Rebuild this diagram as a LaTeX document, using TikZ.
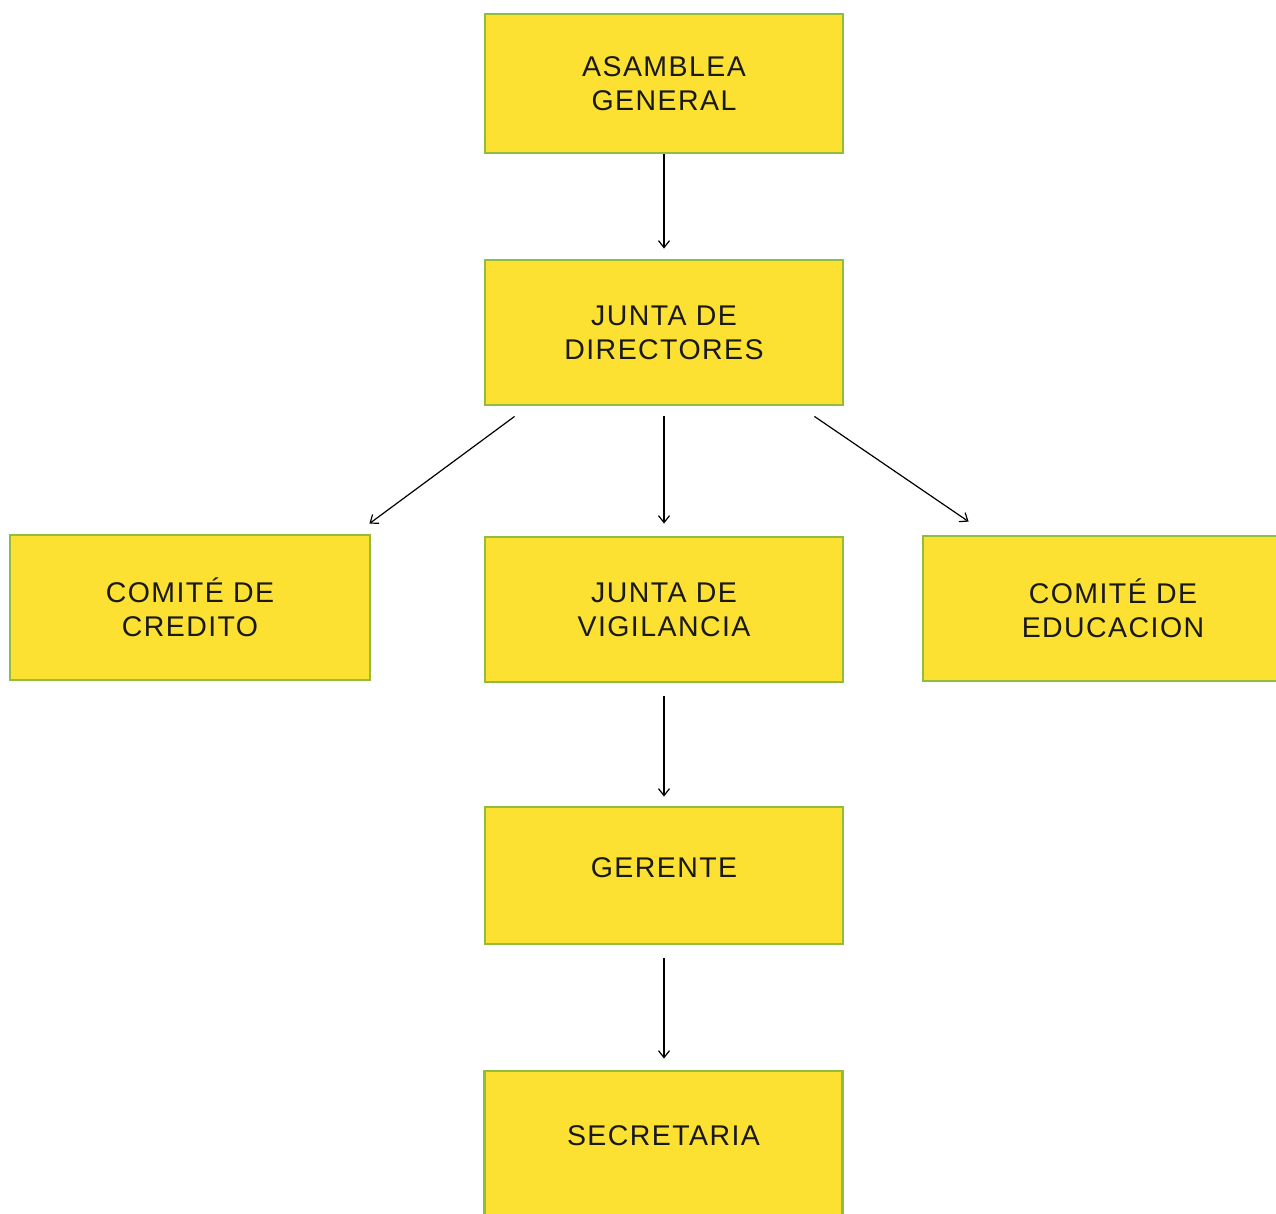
\documentclass[tikz,border=0pt]{standalone}
\usepackage{fontspec}
\setmainfont[LetterSpace=5]{Liberation Sans}
\usetikzlibrary{arrows.meta}
\definecolor{boxfill}{RGB}{253,225,50}
\definecolor{boxline}{RGB}{145,188,60}
\definecolor{txt}{RGB}{25,25,25}
\tikzset{
  orgbox/.style={draw=boxline, fill=boxfill, line width=2.8pt, rectangle, inner sep=0pt,
    align=center, text=txt, font=\fontsize{28.5pt}{34pt}\selectfont},
  oneline/.style={text depth=16pt},
  arr/.style={draw=black, line width=1.2pt, -{Straight Barb[length=7pt,width=11pt,line width=1.2pt]}}
}
\begin{document}
\begin{tikzpicture}[x=1pt,y=-1pt]
\clip (0,0) rectangle (1276,1214);
\fill[white] (0,0) rectangle (1276,1214);
\node[orgbox, minimum width=358pt, minimum height=139pt] (ag) at (664,83.5) {ASAMBLEA\\GENERAL};
\node[orgbox, minimum width=358pt, minimum height=145pt] (jd) at (664,332.5) {JUNTA DE\\DIRECTORES};
\node[orgbox, minimum width=360pt, minimum height=145pt] (cc) at (190,607.5) {COMITÉ DE\\CREDITO};
\node[orgbox, minimum width=358pt, minimum height=145pt] (jv) at (664,609.5) {JUNTA DE\\VIGILANCIA};
\node[orgbox, minimum width=380pt, minimum height=145pt] (ce) at (1113,608.5) {COMITÉ DE\\EDUCACION};
\node[orgbox, oneline, minimum width=358pt, minimum height=137pt] (g) at (664,875.5) {GERENTE};
\node[orgbox, oneline, minimum width=358pt, minimum height=145pt] (s) at (663.5,1143.5) {SECRETARIA};
\draw[arr, shorten >=10pt] (ag.south) -- (jd.north);
\draw[arr] ([shift={(31,10)}]jd.south west) -- ([shift={(-2,-10)}]cc.north east);
\draw[arr, shorten <=10pt, shorten >=12pt] (jd.south) -- (jv.north);
\draw[arr] ([shift={(-30,10)}]jd.south east) -- ([shift={(47,-13)}]ce.north west);
\draw[arr, shorten <=13pt, shorten >=9pt] (jv.south) -- (g.north);
\draw[arr, shorten <=13pt, shorten >=11pt] (g.south) -- (g.south |- s.north);
\end{tikzpicture}
\end{document}
